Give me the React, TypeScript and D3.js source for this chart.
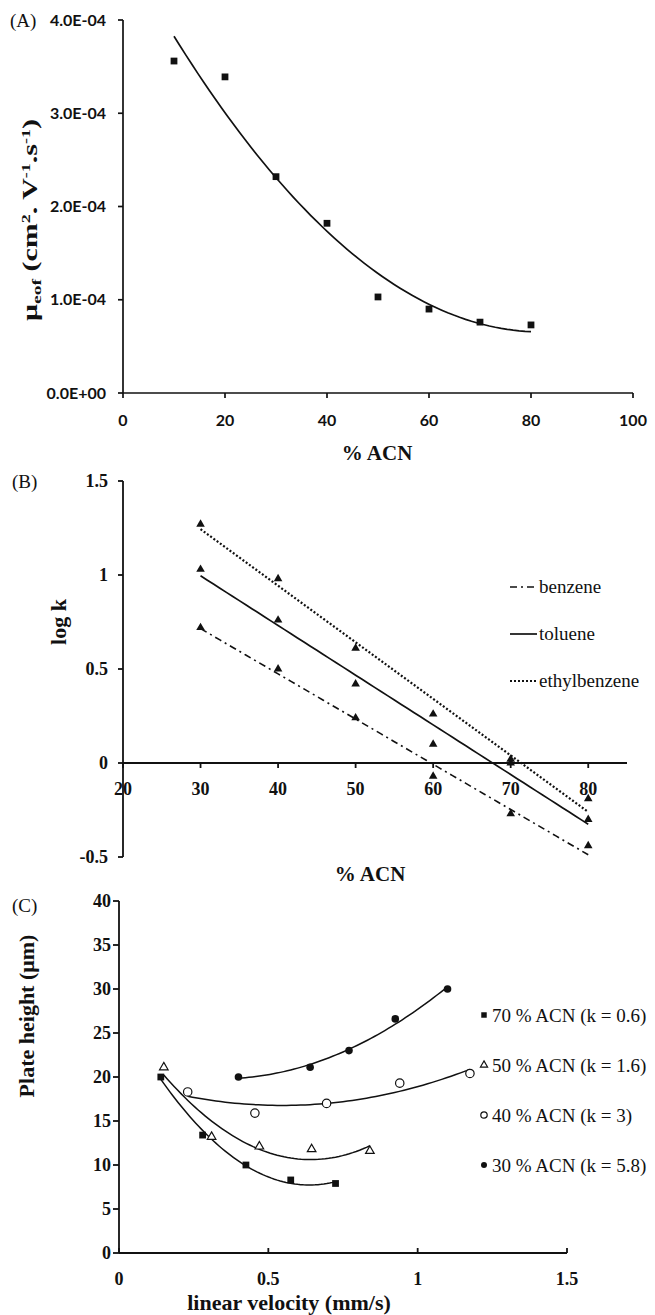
import * as d3 from 'd3';

// (A) electroosmotic mobility vs % ACN
const acnA = [10, 20, 30, 40, 50, 60, 70, 80];
const mobility = [3.56e-4, 3.39e-4, 2.32e-4, 1.82e-4, 1.03e-4, 0.9e-4, 0.76e-4, 0.73e-4];
const xTicksA = [0, 20, 40, 60, 80, 100];
const yTicksA = [0, 1e-4, 2e-4, 3e-4, 4e-4];

// (B) retention, log k vs % ACN
const acnB = [30, 40, 50, 60, 70, 80];
const logkBenzene = [0.72, 0.5, 0.24, -0.07, -0.27, -0.44];
const logkToluene = [1.03, 0.76, 0.42, 0.1, 0.0, -0.3];
const logkEthyl = [1.27, 0.98, 0.61, 0.26, 0.02, -0.19];
const xTicksB = [20, 30, 40, 50, 60, 70, 80];
const yTicksB = [-0.5, 0, 0.5, 1, 1.5];

// (C) plate height vs linear velocity
const vel70 = [0.14, 0.28, 0.425, 0.575, 0.725];
const h70 = [20.0, 13.4, 10.0, 8.3, 7.9];
const vel50 = [0.15, 0.31, 0.47, 0.645, 0.84];
const h50 = [21.1, 13.2, 12.1, 11.8, 11.6];
const vel40 = [0.23, 0.455, 0.695, 0.94, 1.175];
const h40 = [18.3, 15.9, 17.0, 19.3, 20.4];
const vel30 = [0.4, 0.64, 0.77, 0.925, 1.1];
const h30 = [20.0, 21.1, 23.0, 26.6, 30.0];
const xTicksC = [0, 0.5, 1, 1.5];
const yTicksC = [0, 5, 10, 15, 20, 25, 30, 35, 40];
const legendC = ['70 % ACN (k = 0.6)', '50 % ACN (k = 1.6)', '40 % ACN (k = 3)', '30 % ACN (k = 5.8)'];

const SERIF = '"Liberation Serif", "Times New Roman", serif';
const SANS = 'Lato, "Open Sans", sans-serif';
const INK = '#111';

// least squares polynomial (Excel-style trendline)
function polyfit(xs: number[], ys: number[], deg: number): number[] {
  const n = deg + 1;
  const A = Array.from({ length: n }, () => new Array(n + 1).fill(0));
  for (let r = 0; r < n; r++) {
    for (let c = 0; c < n; c++) A[r][c] = d3.sum(xs, x => Math.pow(x, r + c));
    A[r][n] = d3.sum(xs, (x, i) => Math.pow(x, r) * ys[i]);
  }
  for (let i = 0; i < n; i++) {
    let p = i;
    for (let k = i + 1; k < n; k++) if (Math.abs(A[k][i]) > Math.abs(A[p][i])) p = k;
    [A[i], A[p]] = [A[p], A[i]];
    for (let k = i + 1; k < n; k++) {
      const f = A[k][i] / A[i][i];
      for (let j = i; j <= n; j++) A[k][j] -= f * A[i][j];
    }
  }
  const coef = new Array(n).fill(0);
  for (let i = n - 1; i >= 0; i--) {
    let s = A[i][n];
    for (let j = i + 1; j < n; j++) s -= A[i][j] * coef[j];
    coef[i] = s / A[i][i];
  }
  return coef;
}

function trendPath(xs: number[], ys: number[], deg: number, sx: any, sy: any) {
  const c = polyfit(xs, ys, deg);
  const [lo, hi] = d3.extent(xs) as [number, number];
  const pts = d3.range(0, 61).map(i => lo + (hi - lo) * i / 60);
  return d3.line<number>()
    .x(x => sx(x))
    .y(x => sy(c.reduce((s, a, k) => s + a * Math.pow(x, k), 0)))(pts) || '';
}

const sci = (v: number) => {
  const [m, e] = v.toExponential(1).split('e');
  return `${m}E${e[0]}${e.slice(1).padStart(2, '0')}`;
};

export default function App() {
  // ---- scales
  const xA = d3.scaleLinear().domain([0, 100]).range([123, 633]);
  const yA = d3.scaleLinear().domain([0, 4e-4]).range([393, 20]);
  const xB = d3.scaleLinear().domain([20, 85]).range([123, 627]);
  const yB = d3.scaleLinear().domain([-0.5, 1.5]).range([857, 481]);
  const xC = d3.scaleLinear().domain([0, 1.5]).range([119, 567]);
  const yC = d3.scaleLinear().domain([0, 40]).range([1253, 901]);

  const sq = d3.symbol(d3.symbolSquare, 46)();
  const tri = d3.symbol(d3.symbolTriangle, 32)();
  const sqSmall = d3.symbol(d3.symbolSquare, 30)();
  const triSmall = d3.symbol(d3.symbolTriangle, 22)();

  const seriesB = [
    { name: 'benzene', vals: logkBenzene, dash: '7,4,2,4', width: 1.6 },
    { name: 'toluene', vals: logkToluene, dash: 'none', width: 1.7 },
    { name: 'ethylbenzene', vals: logkEthyl, dash: '2,2', width: 2.2 },
  ];

  const seriesC = [
    { xs: vel70, ys: h70, kind: 'square' },
    { xs: vel50, ys: h50, kind: 'triangle' },
    { xs: vel40, ys: h40, kind: 'open' },
    { xs: vel30, ys: h30, kind: 'dot' },
  ];

  const marker = (kind: string, x: number, y: number, small = false, key?: any) => {
    if (kind === 'square')
      return <path key={key} d={small ? sqSmall : sq} transform={`translate(${x},${y})`} fill={INK} />;
    if (kind === 'triangle')
      return <path key={key} d={small ? triSmall : tri} transform={`translate(${x},${y})`} fill="white" stroke={INK} strokeWidth={1.2} />;
    if (kind === 'open')
      return <circle key={key} cx={x} cy={y} r={small ? 3.2 : 4.2} fill="white" stroke={INK} strokeWidth={1.2} />;
    return <circle key={key} cx={x} cy={y} r={small ? 3 : 3.8} fill={INK} />;
  };

  return (
    <svg width={655} height={1315} style={{ position: 'absolute', left: 0, top: 0, display: 'block', background: 'white' }}>
      {/* ================= (A) ================= */}
      <text x={10} y={27} fontFamily={SERIF} fontSize={19} fill={INK}>(A)</text>
      <g stroke={INK} strokeWidth={1.7}>
        <line x1={xA(0)} x2={xA(0)} y1={yA(4e-4)} y2={yA(0)} />
        <line x1={xA(0)} x2={xA(100)} y1={yA(0)} y2={yA(0)} />
        {yTicksA.map(t => <line key={t} x1={xA(0) - 5} x2={xA(0)} y1={yA(t)} y2={yA(t)} />)}
        {xTicksA.map(t => <line key={t} x1={xA(t)} x2={xA(t)} y1={yA(0)} y2={yA(0) + 5} />)}
      </g>
      <g fontFamily={SANS} fontWeight={700} fontSize={16} fill={INK}>
        {yTicksA.map(t => (
          <text key={t} x={106} y={yA(t) + 5.5} textAnchor="end">{sci(t)}</text>
        ))}
        {xTicksA.map(t => (
          <text key={t} x={xA(t)} y={426} textAnchor="middle">{t}</text>
        ))}
      </g>
      <text x={377} y={460} textAnchor="middle" fontFamily={SERIF} fontWeight={700} fontSize={21} fill={INK}>% ACN</text>
      <text transform="translate(37,220) rotate(-90) scale(1.5,1)" textAnchor="middle"
        fontFamily={SERIF} fontWeight={700} fontSize={20} fill={INK}>
        μ<tspan fontSize={13} dy={4}>eof</tspan>
        <tspan dy={-4}> (cm</tspan><tspan fontSize={12} dy={-7}>2</tspan>
        <tspan dy={7}>. V</tspan><tspan fontSize={12} dy={-7}>-1</tspan>
        <tspan dy={7}>.s</tspan><tspan fontSize={12} dy={-7}>-1</tspan>
        <tspan dy={7}>)</tspan>
      </text>
      <path d={trendPath(acnA, mobility, 2, xA, yA)} fill="none" stroke={INK} strokeWidth={1.7} />
      {acnA.map((a, i) => marker('square', xA(a), yA(mobility[i]), false, i))}

      {/* ================= (B) ================= */}
      <text x={12} y={488} fontFamily={SERIF} fontSize={19} fill={INK}>(B)</text>
      <g stroke={INK} strokeWidth={1.8}>
        <line x1={xB(20)} x2={xB(20)} y1={yB(1.5)} y2={yB(-0.5)} />
        <line x1={xB(20)} x2={xB(85)} y1={yB(0)} y2={yB(0)} />
        {yTicksB.map(t => <line key={t} x1={xB(20) - 5} x2={xB(20)} y1={yB(t)} y2={yB(t)} />)}
        {xTicksB.map(t => <line key={t} x1={xB(t)} x2={xB(t)} y1={yB(0)} y2={yB(0) + 5} />)}
      </g>
      <g fontFamily={SERIF} fontWeight={700} fontSize={18} fill={INK}>
        {yTicksB.map(t => (
          <text key={t} x={108} y={yB(t) + 6} textAnchor="end">{String(t)}</text>
        ))}
        {xTicksB.map(t => (
          <text key={t} x={xB(t)} y={795} textAnchor="middle">{t}</text>
        ))}
      </g>
      <text x={370} y={881} textAnchor="middle" fontFamily={SERIF} fontWeight={700} fontSize={21} fill={INK}>% ACN</text>
      <text transform="translate(66,622) rotate(-90)" textAnchor="middle"
        fontFamily={SERIF} fontWeight={700} fontSize={22} fill={INK}>log k</text>
      {seriesB.map(s => (
        <path key={s.name} d={trendPath(acnB, s.vals, 1, xB, yB)} fill="none" stroke={INK}
          strokeWidth={s.width} strokeDasharray={s.dash} />
      ))}
      {seriesB.map(s => acnB.map((a, i) => (
        <path key={s.name + i} d={tri} transform={`translate(${xB(a)},${yB(s.vals[i])})`} fill={INK} />
      )))}
      {seriesB.map((s, i) => (
        <g key={s.name} transform={`translate(0,${587 + i * 47})`}>
          <line x1={510} x2={537} y1={0} y2={0} stroke={INK} strokeWidth={s.width} strokeDasharray={s.dash} />
          <text x={539} y={6} fontFamily={SERIF} fontSize={19} fill={INK}>{s.name}</text>
        </g>
      ))}

      {/* ================= (C) ================= */}
      <text x={12} y={912} fontFamily={SERIF} fontSize={19} fill={INK}>(C)</text>
      <g stroke={INK} strokeWidth={1.8}>
        <line x1={xC(0)} x2={xC(0)} y1={yC(40)} y2={yC(0)} />
        <line x1={xC(0)} x2={xC(1.5)} y1={yC(0)} y2={yC(0)} />
        {yTicksC.map(t => <line key={t} x1={xC(0) - 6} x2={xC(0)} y1={yC(t)} y2={yC(t)} />)}
        {xTicksC.map(t => <line key={t} x1={xC(t)} x2={xC(t)} y1={yC(0)} y2={yC(0) - 5} />)}
      </g>
      <g fontFamily={SERIF} fontWeight={700} fontSize={18} fill={INK}>
        {yTicksC.map(t => (
          <text key={t} x={111} y={yC(t) + 6} textAnchor="end">{t}</text>
        ))}
        {xTicksC.map(t => (
          <text key={t} x={xC(t)} y={1285} textAnchor="middle">{t}</text>
        ))}
      </g>
      <text x={289} y={1310} textAnchor="middle" fontFamily={SERIF} fontWeight={700} fontSize={22} fill={INK}>linear velocity (mm/s)</text>
      <text transform="translate(34,1016) rotate(-90)" textAnchor="middle"
        fontFamily={SERIF} fontWeight={700} fontSize={22} fill={INK}>Plate height (μm)</text>
      {seriesC.map((s, i) => (
        <path key={i} d={trendPath(s.xs, s.ys, 2, xC, yC)} fill="none" stroke={INK} strokeWidth={1.5} />
      ))}
      {seriesC.map((s, si) => s.xs.map((v, i) => marker(s.kind, xC(v), yC(s.ys[i]), false, `${si}-${i}`)))}
      {seriesC.map((s, i) => (
        <g key={i} transform={`translate(0,${1015 + i * 50})`}>
          {marker(s.kind, 484, 0, true)}
          <text x={492} y={7} fontFamily={SERIF} fontSize={19} fill={INK}>{legendC[i]}</text>
        </g>
      ))}
    </svg>
  );
}
